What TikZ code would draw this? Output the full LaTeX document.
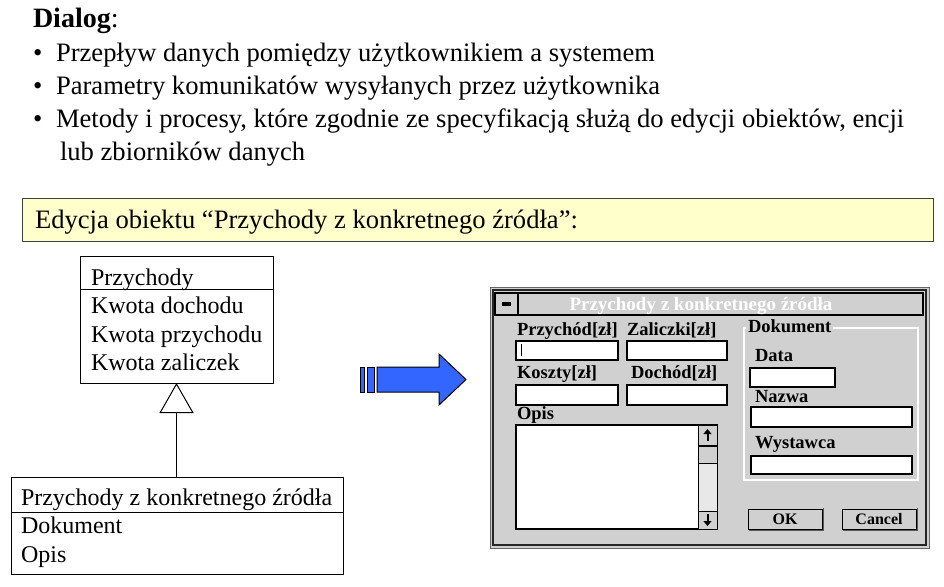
\documentclass[tikz,border=0pt]{standalone}
\usepackage{fontspec}
\setmainfont{Liberation Serif}
\usetikzlibrary{arrows.meta}
\definecolor{winbg}{RGB}{208,208,208}
\definecolor{track}{RGB}{232,232,232}
\definecolor{notefill}{RGB}{255,255,204}
\definecolor{arrowblue}{RGB}{51,102,255}
\begin{document}
\begin{tikzpicture}[x=1pt,y=-1pt,
  every node/.style={inner sep=0pt, outer sep=0pt},
  bodytxt/.style={anchor=base west, font=\fontsize{26.6}{32}\selectfont},
  umltxt/.style={anchor=base west, font=\fontsize{24}{28}\selectfont},
  umlbox/.style={draw, line width=1pt, fill=white, anchor=north west},
  lbl/.style={anchor=base west, font=\bfseries\fontsize{18.5}{20}\selectfont},
  field/.style={draw=black, line width=1.6pt, fill=white, anchor=north west},
  btn/.style={draw=black, line width=1pt, fill=winbg, anchor=north west},
  btntxt/.style={font=\bfseries\fontsize{16}{18}\selectfont},
  sbpart/.style={draw=black, line width=1pt, anchor=north west, minimum width=19},
  btnshadow/.style={black!65, line width=1.5pt},
]
\useasboundingbox (0,0) rectangle (944,586);

% ---------- heading and bullet list ----------
\node[bodytxt] (head) at (33,28) {\fontsize{28}{32}\selectfont\textbf{Dialog}:};
\node[bodytxt] (d1) at (33,62) {•};
\node[bodytxt] (t1) at (56,62) {Przepływ danych pomiędzy użytkownikiem a systemem};
\node[bodytxt] (d2) at (33,94) {•};
\node[bodytxt] (t2) at (56,94) {Parametry komunikatów wysyłanych przez użytkownika};
\node[bodytxt] (d3) at (33,127) {•};
\node[bodytxt] (t3) at (56,127) {Metody i procesy, które zgodnie ze specyfikacją służą do edycji obiektów, encji};
\node[bodytxt] (t4) at (60,160) {lub zbiorników danych};

% ---------- note bar ----------
\node[draw=black!75, line width=1pt, fill=notefill, anchor=north west,
      minimum width=911, minimum height=43] (note) at (22,198) {};
\node[bodytxt] (notetxt) at (35,228) {Edycja obiektu “Przychody z konkretnego źródła”:};

% ---------- class diagram ----------
\node[umlbox, minimum width=193, minimum height=127] (super) at (80,256) {};
\draw[line width=1pt] (80,289) -- (273,289);
\node[umltxt] (s0) at (91,285) {Przychody};
\node[umltxt] (s1) at (91,313) {Kwota dochodu};
\node[umltxt] (s2) at (91,342) {Kwota przychodu};
\node[umltxt] (s3) at (91,370) {Kwota zaliczek};

\node[umlbox, minimum width=332, minimum height=97] (sub) at (11,477) {};
\draw[line width=1pt] (11,512) -- (343,512);
\node[umltxt] (c0) at (21,505) {Przychody z konkretnego źródła};
\node[umltxt] (c1) at (21,533) {Dokument};
\node[umltxt] (c2) at (21,562) {Opis};

\draw[line width=1pt, -{Triangle[open, length=30pt, width=34pt, line width=1pt]}]
  (sub.north -| super.south) -- (super.south);

% ---------- transition arrow ----------
\draw[black, line width=1pt, fill=arrowblue]
  (377,367) -- (439,367) -- (439,354) -- (466,379.5) -- (439,405) -- (439,392) -- (377,392) -- cycle;
\draw[black, line width=1pt, fill=arrowblue] (360,367) rectangle (364,392);
\draw[black, line width=1pt, fill=arrowblue] (367,367) rectangle (374,392);

% ---------- dialog window ----------
\node[draw=black!60, line width=1pt, fill=winbg, anchor=north west,
      minimum width=439, minimum height=261] (win) at (490,287) {};
\draw[black!85, line width=1.2pt] (493,290) rectangle (926,545);
\node[draw=black, line width=1.2pt, fill=winbg, anchor=north west,
      minimum width=428, minimum height=22] (title) at (495,293) {};
\node[draw=black, line width=1.2pt, fill=winbg, anchor=north west,
      minimum width=23, minimum height=22] (sysbtn) at (495,293) {};
\fill[black] (502,302) rectangle (511,306);
\node[anchor=base, text=white, font=\bfseries\fontsize{19}{20}\selectfont] (wintitle)
  at (701,310) {Przychody z konkretnego źródła};

% amount fields
\node[lbl] (lprz) at (517,335) {Przychód[zł]};
\node[field, minimum width=102, minimum height=19] (fprz) at (516,341) {};
\draw[line width=0.8pt] (521,344) -- (521,356);
\node[lbl] (lzal) at (627,335) {Zaliczki[zł]};
\node[field, minimum width=100, minimum height=19] (fzal) at (627,341) {};
\node[lbl] (lkos) at (517,378) {Koszty[zł]};
\node[field, minimum width=102, minimum height=20] (fkos) at (516,385) {};
\node[lbl] (ldoc) at (631,378) {Dochód[zł]};
\node[field, minimum width=100, minimum height=20] (fdoc) at (627,385) {};

% description list box with scroll bar
\node[lbl] (lopis) at (517,419) {Opis};
\node[field, minimum width=201, minimum height=104] (fopis) at (516,425) {};
\node[sbpart, fill=track, minimum height=104] (sbar) at (698,425) {};
\node[sbpart, fill=winbg, minimum height=20] (sbup) at (698,425) {};
\node[sbpart, fill=winbg, minimum height=17] (sbthumb) at (698,446) {};
\node[sbpart, fill=winbg, minimum height=18] (sbdown) at (698,511) {};
\draw[line width=2pt, -{Triangle[length=5pt, width=8pt]}]
  ([yshift=-6pt]sbup.center) -- ([yshift=6pt]sbup.center);
\draw[line width=2pt, -{Triangle[length=5pt, width=8pt]}]
  ([yshift=6pt]sbdown.center) -- ([yshift=-6pt]sbdown.center);

% document group
\draw[white, line width=1.2pt] (833,328) -- (918,328) -- (918,480) -- (744,480) -- (744,328) -- (746,328);
\node[lbl] (ldok) at (748,332) {Dokument};
\node[lbl] (ldata) at (755,361) {Data};
\node[field, minimum width=85, minimum height=19] (fdata) at (750,368) {};
\node[lbl] (lnaz) at (755,402) {Nazwa};
\node[field, minimum width=161, minimum height=20] (fnaz) at (751,407) {};
\node[lbl] (lwys) at (755,448) {Wystawca};
\node[field, minimum width=161, minimum height=18] (fwys) at (751,456) {};

% buttons
\node[btn, minimum width=74, minimum height=20] (ok) at (748,509) {};
\draw[btnshadow] ([xshift=1pt,yshift=-1.5pt]ok.south west) -- ([xshift=1.5pt,yshift=-1.5pt]ok.south east) -- ([xshift=1.5pt,yshift=1pt]ok.north east);
\node[btntxt] (oktxt) at (ok.center) {OK};
\node[btn, minimum width=74, minimum height=20] (cancel) at (842,509) {};
\draw[btnshadow] ([xshift=1pt,yshift=-1.5pt]cancel.south west) -- ([xshift=1.5pt,yshift=-1.5pt]cancel.south east) -- ([xshift=1.5pt,yshift=1pt]cancel.north east);
\node[btntxt] (canceltxt) at (cancel.center) {Cancel};
\end{tikzpicture}
\end{document}
